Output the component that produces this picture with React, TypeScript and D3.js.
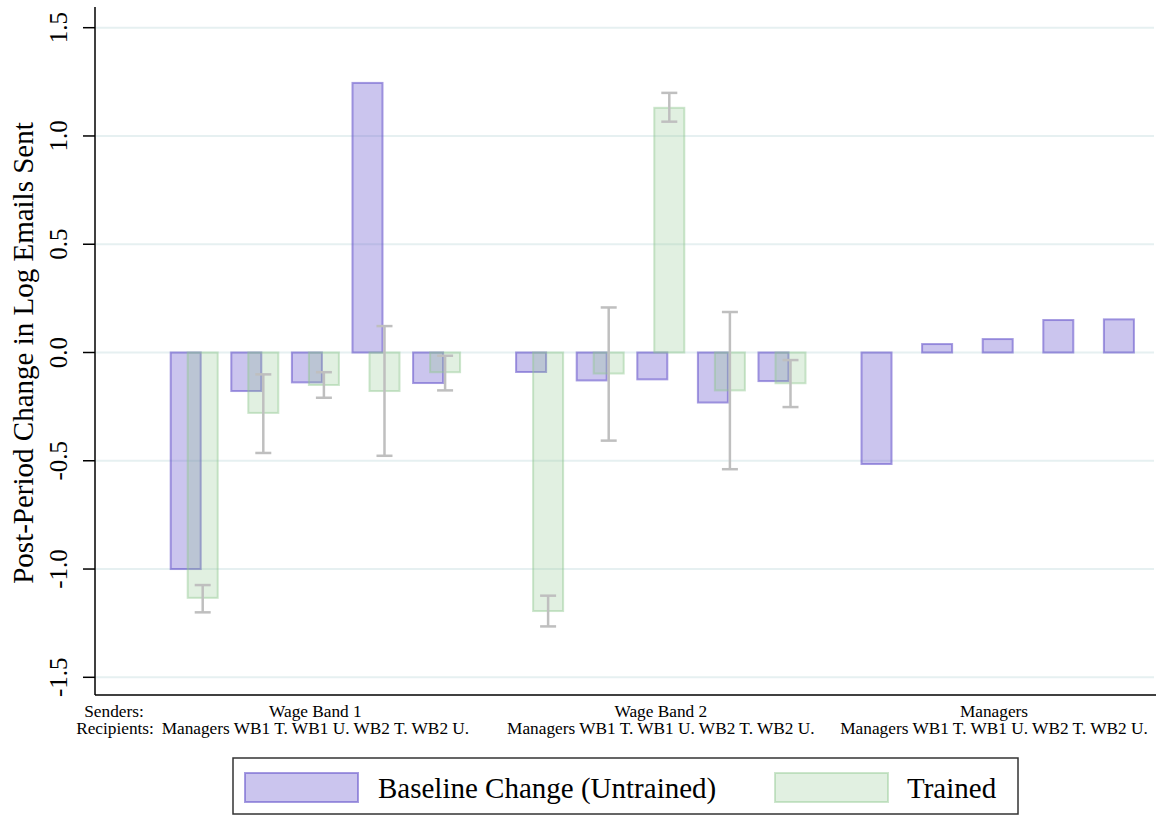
import React from "react";
import { scaleLinear } from "d3";

// senders (groups) and recipients (bars inside each group)
const senders = ["Wage Band 1", "Wage Band 2", "Managers"];
const recipients = ["Managers", "WB1 T.", "WB1 U.", "WB2 T.", "WB2 U."];

// baseline change (untrained), one row per sender
const baseline = [
  [-1.0, -0.178, -0.138, 1.245, -0.141],
  [-0.09, -0.129, -0.124, -0.231, -0.132],
  [-0.515, 0.039, 0.062, 0.15, 0.153],
];

// trained effect (none for managers)
const trained = [
  [-1.133, -0.279, -0.15, -0.178, -0.091],
  [-1.194, -0.097, 1.13, -0.175, -0.142],
  [null, null, null, null, null],
];

// confidence intervals for the trained bars
const ciLow = [
  [-1.2, -0.464, -0.209, -0.477, -0.175],
  [-1.265, -0.407, 1.066, -0.539, -0.252],
  [null, null, null, null, null],
];
const ciHigh = [
  [-1.074, -0.101, -0.091, 0.122, -0.015],
  [-1.123, 0.208, 1.199, 0.187, -0.035],
  [null, null, null, null, null],
];

const yTicks = [-1.5, -1.0, -0.5, 0.0, 0.5, 1.0, 1.5];

const serif = "'Liberation Serif', 'Times New Roman', serif";
const PURPLE_FILL = "rgba(106, 90, 205, 0.35)";
const PURPLE_LINE = "rgba(106, 90, 205, 0.6)";
const GREEN_FILL = "rgba(144, 200, 144, 0.27)";
const GREEN_LINE = "rgba(144, 200, 144, 0.45)";
const CI_COLOR = "#bfbfbf";

export default function App() {
  const width = 1156;
  const height = 815;
  const left = 95;
  const bottom = 695;
  const right = 1154;

  const groupStep = 5.7; // slot units between group starts
  const yScale = scaleLinear().domain([-1.5, 1.5]).range([677.3, 27.7]);
  const xScale = scaleLinear()
    .domain([0, groupStep * 2 + 4])
    .range([194.2, 1127.4]);

  const barW = 30;
  const offset = 17;

  // label centre, kept inside the right edge for the last group
  const groupCenter = (g: number) => Math.min(xScale(g * groupStep + 2), 994);

  return (
    <svg
      width={width}
      height={height}
      style={{ position: "absolute", left: 0, top: 0, background: "#fff" }}
    >
      {/* gridlines */}
      {yTicks.map((t) => (
        <line
          key={"g" + t}
          x1={left + 1}
          x2={right}
          y1={yScale(t)}
          y2={yScale(t)}
          stroke="#e6f0f1"
          strokeWidth={2}
        />
      ))}

      {/* bars */}
      {senders.map((s, g) =>
        recipients.map((r, i) => {
          const cx = xScale(g * groupStep + i);
          const b = baseline[g][i];
          const t = trained[g][i];
          const lo = ciLow[g][i];
          const hi = ciHigh[g][i];
          const px = cx - (barW + offset) / 2;
          const gx = px + offset;
          const ex = gx + barW / 2;
          return (
            <g key={s + r}>
              <rect
                x={px}
                y={Math.min(yScale(b), yScale(0))}
                width={barW}
                height={Math.abs(yScale(b) - yScale(0))}
                fill={PURPLE_FILL}
                stroke={PURPLE_LINE}
                strokeWidth={2}
              />
              {t !== null && (
                <rect
                  x={gx}
                  y={Math.min(yScale(t), yScale(0))}
                  width={barW}
                  height={Math.abs(yScale(t) - yScale(0))}
                  fill={GREEN_FILL}
                  stroke={GREEN_LINE}
                  strokeWidth={2}
                />
              )}
              {lo !== null && hi !== null && (
                <g stroke={CI_COLOR} strokeWidth={2.5}>
                  <line x1={ex} x2={ex} y1={yScale(hi)} y2={yScale(lo)} />
                  <line x1={ex - 8} x2={ex + 8} y1={yScale(hi)} y2={yScale(hi)} />
                  <line x1={ex - 8} x2={ex + 8} y1={yScale(lo)} y2={yScale(lo)} />
                </g>
              )}
            </g>
          );
        })
      )}

      {/* axes */}
      <line x1={left} x2={left} y1={7} y2={bottom} stroke="#000" strokeWidth={1.5} />
      <line x1={left} x2={width} y1={bottom} y2={bottom} stroke="#000" strokeWidth={1.5} />
      {yTicks.map((t) => (
        <g key={"t" + t}>
          <line x1={left - 12} x2={left} y1={yScale(t)} y2={yScale(t)} stroke="#000" strokeWidth={1.5} />
          <text
            transform={`translate(67,${yScale(t)}) rotate(-90)`}
            textAnchor="middle"
            fontFamily={serif}
            fontSize={25}
          >
            {t.toFixed(1)}
          </text>
        </g>
      ))}
      <text
        transform={`translate(33,353) rotate(-90)`}
        textAnchor="middle"
        fontFamily={serif}
        fontSize={29}
      >
        Post-Period Change in Log Emails Sent
      </text>

      {/* x labels */}
      <g fontFamily={serif} fontSize={17.3} textAnchor="middle">
        <text x={114} y={717}>Senders:</text>
        <text x={115} y={734}>Recipients:</text>
        {senders.map((s, g) => (
          <g key={"l" + s}>
            <text x={groupCenter(g)} y={717}>{s}</text>
            <text x={groupCenter(g)} y={734}>{recipients.join(" ")}</text>
          </g>
        ))}
      </g>

      {/* legend */}
      <rect x={233} y={758} width={785} height={56} fill="#fff" stroke="#333" strokeWidth={1.5} />
      <rect x={245} y={773} width={113} height={29} fill={PURPLE_FILL} stroke={PURPLE_LINE} strokeWidth={2} />
      <text x={378} y={798} fontFamily={serif} fontSize={29}>Baseline Change (Untrained)</text>
      <rect x={775} y={773} width={113} height={29} fill={GREEN_FILL} stroke={GREEN_LINE} strokeWidth={2} />
      <text x={907} y={798} fontFamily={serif} fontSize={29}>Trained</text>
    </svg>
  );
}
